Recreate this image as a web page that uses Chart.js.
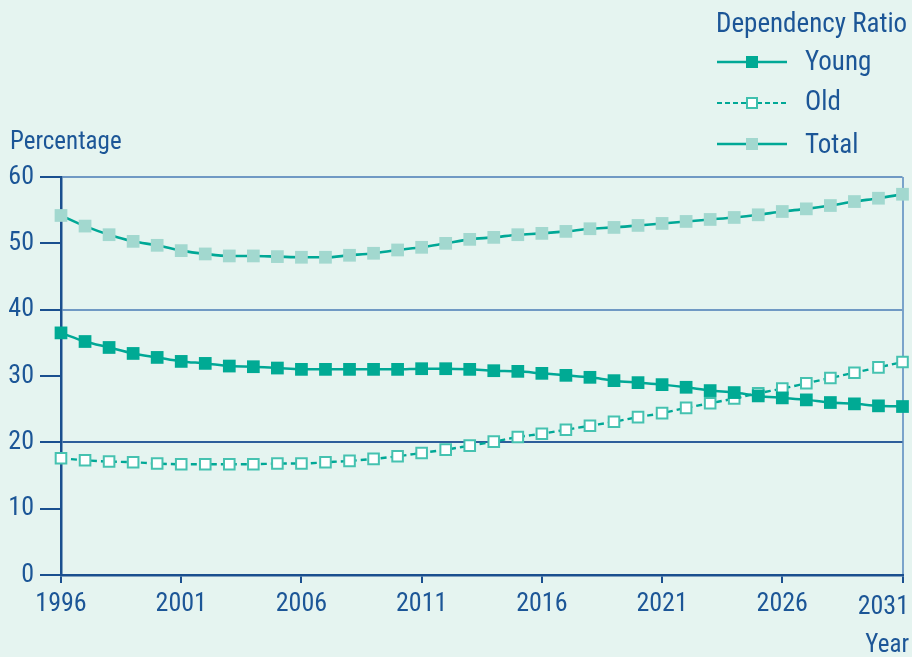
<!DOCTYPE html>
<html><head><meta charset="utf-8">
<script src="https://cdn.jsdelivr.net/npm/chart.js@4.4.0/dist/chart.umd.min.js"></script>
<style>
html,body{margin:0;padding:0;background:#e5f4f0;overflow:hidden}
#wrap{position:relative;width:912px;height:657px}
#c{position:absolute;left:0;top:0}
.t{position:absolute;font-family:'Roboto Condensed','DejaVu Sans Condensed',sans-serif;color:#1c5697;font-size:27px;line-height:27px;white-space:nowrap}
svg{position:absolute}
</style></head>
<body>
<div id="wrap">
<canvas id="c" width="912" height="657"></canvas>
<div class="t" style="left:716px;top:10px">Dependency Ratio</div>
<svg style="left:717px;top:52px" width="72" height="20"><line x1="0" y1="10" x2="70" y2="10" stroke="#00a896" stroke-width="2.4"/><rect x="29" y="4" width="12" height="12" fill="#00aa94"/></svg>
<div class="t" style="left:805px;top:48px">Young</div>
<svg style="left:717px;top:93px" width="72" height="20"><line x1="0" y1="10" x2="70" y2="10" stroke="#00a896" stroke-width="2.2" stroke-dasharray="5,3"/><rect x="30" y="5" width="10" height="10" fill="#ffffff" stroke="#3fc0ae" stroke-width="2"/></svg>
<div class="t" style="left:805px;top:88px">Old</div>
<svg style="left:717px;top:134px" width="72" height="20"><line x1="0" y1="10" x2="70" y2="10" stroke="#00a896" stroke-width="2.4"/><rect x="29" y="4" width="12" height="12" fill="#a2d8cf"/></svg>
<div class="t" style="left:805px;top:131px">Total</div>
<div class="t" style="left:10px;top:128px;font-size:25px;line-height:25px">Percentage</div>
<div class="t" style="right:3px;top:592px;font-size:26px;line-height:26px">2031</div>
<div class="t" style="right:3px;top:631px;font-size:25px;line-height:25px">Year</div>
</div>
<script>
const years = [1996,1997,1998,1999,2000,2001,2002,2003,2004,2005,2006,2007,2008,2009,2010,2011,2012,2013,2014,2015,2016,2017,2018,2019,2020,2021,2022,2023,2024,2025,2026,2027,2028,2029,2030,2031];
const young = [36.5,35.2,34.3,33.4,32.8,32.2,31.9,31.5,31.4,31.2,31.0,31.0,31.0,31.0,31.0,31.1,31.1,31.0,30.8,30.7,30.4,30.1,29.8,29.3,29.0,28.7,28.3,27.8,27.5,27.0,26.7,26.4,26.0,25.8,25.5,25.4];
const old = [17.6,17.3,17.1,17.0,16.8,16.7,16.7,16.7,16.7,16.8,16.8,17.0,17.2,17.5,17.9,18.4,18.9,19.5,20.1,20.8,21.3,21.9,22.5,23.1,23.8,24.4,25.2,25.9,26.6,27.4,28.1,28.9,29.7,30.5,31.3,32.1];
const total = [54.2,52.6,51.3,50.3,49.7,48.9,48.4,48.1,48.1,48.0,47.9,47.9,48.2,48.5,49.0,49.4,50.0,50.6,50.9,51.3,51.5,51.8,52.2,52.4,52.7,53.0,53.3,53.6,53.9,54.3,54.8,55.2,55.7,56.3,56.8,57.4];
const xTickYears = [1996,2001,2006,2011,2016,2021,2026,2031];
const yTickValues = [0,10,20,30,40,50,60];

const FONT = "'Roboto Condensed','DejaVu Sans Condensed',sans-serif";
const TXT = '#1c5697';
const AXIS = '#1a4f8f';
const pts = arr => years.map((yr,i)=>({x:yr,y:arr[i]}));

new Chart(document.getElementById('c'), {
  type:'line',
  data:{datasets:[
    {label:'Young', data:pts(young), borderColor:'#00a896', borderWidth:2.5, pointStyle:'rect', pointRadius:9, pointBackgroundColor:'#00aa94', pointBorderColor:'#00aa94', pointBorderWidth:0, cubicInterpolationMode:'monotone', clip:false},
    {label:'Old', data:pts(old), borderColor:'#00a896', borderWidth:2.4, borderDash:[6,4], pointStyle:'rect', pointRadius:7.5, pointBackgroundColor:'#ffffff', pointBorderColor:'#45c2b0', pointBorderWidth:2, cubicInterpolationMode:'monotone', clip:false},
    {label:'Total', data:pts(total), borderColor:'#00a896', borderWidth:2.6, pointStyle:'rect', pointRadius:9, pointBackgroundColor:'#a2d8cf', pointBorderColor:'#a2d8cf', pointBorderWidth:0, cubicInterpolationMode:'monotone', clip:false}
  ]},
  options:{
    responsive:false, animation:false, devicePixelRatio:1,
    layout:{padding:{top:177,right:7,left:0,bottom:0}},
    plugins:{legend:{display:false},tooltip:{enabled:false}},
    scales:{
      x:{type:'linear',min:1996,max:2031,
        afterBuildTicks:s=>{s.ticks=xTickYears.map(v=>({value:v}));},
        afterFit:s=>{s.height=82;s.paddingLeft=0;s.paddingRight=0;},
        grid:{color:c=>(c.tick&&c.tick.value===2031)?'#7aa3cb':'rgba(0,0,0,0)',lineWidth:2,tickColor:AXIS,tickLength:8,tickWidth:2},
        border:{color:AXIS,width:2.5},
        ticks:{color:c=>(c.tick&&c.tick.value===2031)?'rgba(0,0,0,0)':TXT,font:{family:FONT,size:26},padding:6,maxRotation:0,autoSkip:false,callback:v=>String(v)}
      },
      y:{min:0,max:60,
        afterBuildTicks:s=>{s.ticks=yTickValues.map(v=>({value:v}));},
        afterFit:s=>{s.width=61;},
        grid:{color:c=>{const v=c.tick&&c.tick.value; if(v===20) return '#2d5e9b'; if(v===40||v===60) return '#7099c4'; return 'rgba(0,0,0,0)';},lineWidth:2,tickColor:AXIS,tickLength:21,tickWidth:2},
        border:{color:AXIS,width:2.5},
        ticks:{color:TXT,font:{family:FONT,size:26},padding:6,callback:v=>String(v)}
      }
    }
  }
});
</script>
</body></html>
